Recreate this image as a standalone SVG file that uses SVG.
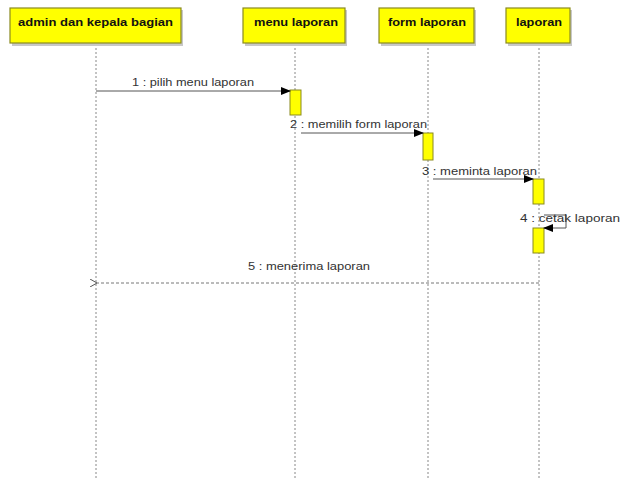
<svg xmlns="http://www.w3.org/2000/svg" width="621" height="478" viewBox="0 0 621 478">
<defs>
<marker id="fill" markerWidth="10" markerHeight="8" refX="9" refY="4" orient="auto" markerUnits="userSpaceOnUse"><path d="M0,0 L10,4 L0,8 Z" fill="#000"/></marker>
<marker id="open" markerWidth="10" markerHeight="8" refX="1" refY="4" orient="auto" markerUnits="userSpaceOnUse"><path d="M8,0 L1,4 L8,8" fill="none" stroke="#555" stroke-width="1"/></marker>
</defs>
<style>
.head{fill:#ffff00;stroke:#8a8a20;stroke-width:1.2}
.shadow{fill:#c8c8c8}
.hl{font-family:"Liberation Sans",Arial,sans-serif;font-size:11px;font-weight:bold;fill:#111}
.life{stroke:#888;stroke-width:1;stroke-dasharray:2,2;fill:none}
.act{fill:#ffff00;stroke:#8a8a20;stroke-width:1}
.msg{stroke:#555;stroke-width:1;fill:none}
.ret{stroke:#777;stroke-width:1;stroke-dasharray:3,2;fill:none}
.lbl{font-family:"Liberation Sans",Arial,sans-serif;font-size:11px;fill:#333}
</style>
<rect width="621" height="478" fill="#fff"/>
<g id="lifelines">
<line class="life" x1="96" y1="44" x2="96" y2="478"/>
<line class="life" x1="295" y1="44" x2="295" y2="478"/>
<line class="life" x1="428" y1="44" x2="428" y2="478"/>
<line class="life" x1="539" y1="44" x2="539" y2="478"/>
</g>
<g id="admin">
<rect class="shadow" x="12" y="10" width="171" height="36"/>
<rect class="head" x="10" y="8" width="171" height="35"/>
<text class="hl" x="18" y="26" textLength="155" lengthAdjust="spacingAndGlyphs">admin dan kepala bagian</text>
</g>
<g id="menu">
<rect class="shadow" x="245" y="10" width="102" height="36"/>
<rect class="head" x="243" y="8" width="102" height="35"/>
<text class="hl" x="254" y="26" textLength="84" lengthAdjust="spacingAndGlyphs">menu laporan</text>
</g>
<g id="form">
<rect class="shadow" x="381" y="10" width="95" height="36"/>
<rect class="head" x="379" y="8" width="95" height="35"/>
<text class="hl" x="388" y="26" textLength="78" lengthAdjust="spacingAndGlyphs">form laporan</text>
</g>
<g id="laporan">
<rect class="shadow" x="508" y="10" width="64" height="36"/>
<rect class="head" x="506" y="8" width="64" height="35"/>
<text class="hl" x="516" y="26" textLength="46" lengthAdjust="spacingAndGlyphs">laporan</text>
</g>
<g id="activations">
<rect class="act" x="290" y="90" width="11" height="25"/>
<rect class="act" x="423" y="133" width="10" height="27"/>
<rect class="act" x="533" y="179" width="11" height="25"/>
<rect class="act" x="533" y="228" width="11" height="25"/>
</g>
<g id="connectors">
<line class="msg" x1="96" y1="91" x2="290" y2="91" marker-end="url(#fill)"/>
<text class="lbl" x="132" y="86" textLength="122" lengthAdjust="spacingAndGlyphs">1 : pilih menu laporan</text>
<line class="msg" x1="301" y1="133" x2="423" y2="133" marker-end="url(#fill)"/>
<text class="lbl" x="290" y="128" textLength="137" lengthAdjust="spacingAndGlyphs">2 : memilih form laporan</text>
<line class="msg" x1="433" y1="179" x2="533" y2="179" marker-end="url(#fill)"/>
<text class="lbl" x="422" y="175" textLength="115" lengthAdjust="spacingAndGlyphs">3 : meminta laporan</text>
<path class="msg" d="M544,215 L566,215 L566,228 L544,228" marker-end="url(#fill)"/>
<text class="lbl" x="520" y="222" textLength="100" lengthAdjust="spacingAndGlyphs">4 : cetak laporan</text>
<line class="ret" x1="539" y1="283" x2="97" y2="283" marker-end="url(#open)"/>
<text class="lbl" x="248" y="270" textLength="122" lengthAdjust="spacingAndGlyphs">5 : menerima laporan</text>
</g>
</svg>
